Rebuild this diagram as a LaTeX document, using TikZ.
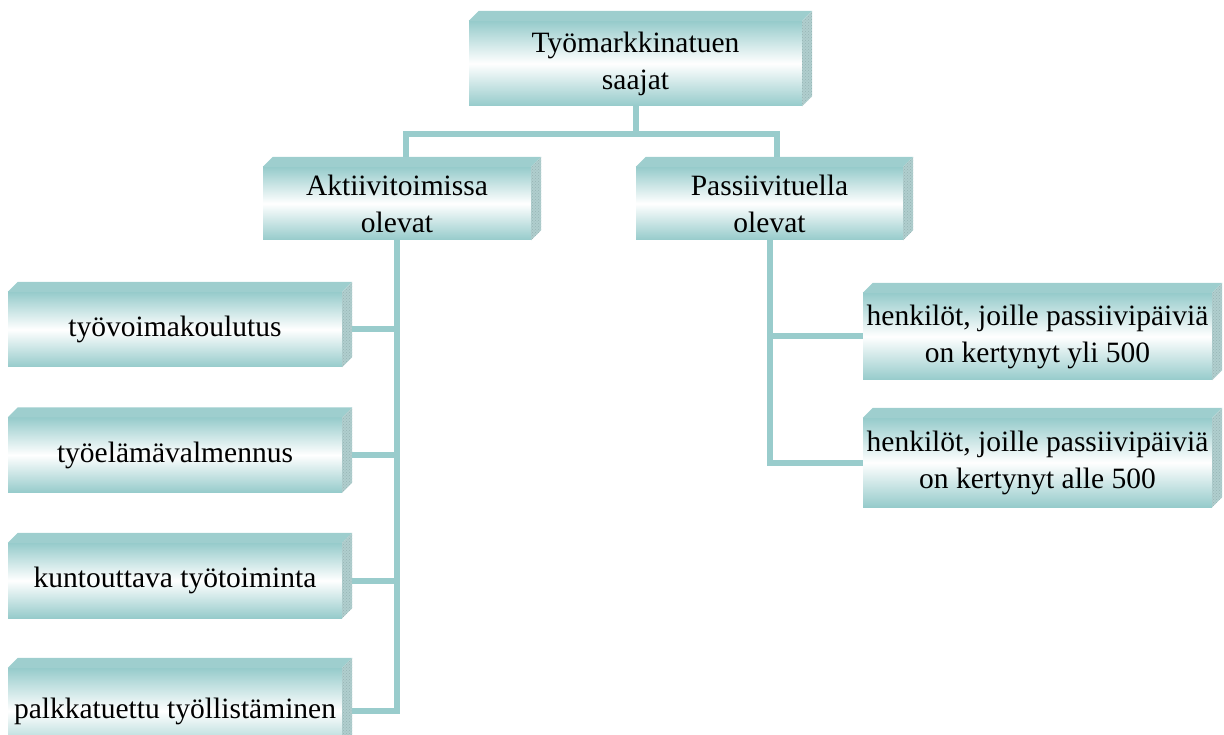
\documentclass[tikz,border=0pt]{standalone}
\usepackage{fontspec}
\setmainfont{Liberation Serif}
\usetikzlibrary{calc,patterns}
\definecolor{lineteal}{RGB}{153,204,204}
\definecolor{faceteal}{RGB}{150,203,203}
\definecolor{topteal}{RGB}{158,206,206}
\definecolor{sideteal}{RGB}{176,206,206}
\definecolor{sidedots}{RGB}{150,180,180}
\begin{document}
\begin{tikzpicture}[x=1pt,y=-1pt,
  box/.style={rectangle, inner sep=0pt, top color=faceteal, bottom color=faceteal,
    middle color=white, align=center,
    font=\fontsize{29.5}{37}\selectfont},
  conn/.style={draw=lineteal, line width=6pt},
  topface/.style={fill=topteal},
  sideface/.style={fill=sideteal}]
\clip (0,0) rectangle (1224,735);
\useasboundingbox (0,0) rectangle (1224,735);

% front faces
\node[box, minimum width=333pt, minimum height=85pt] (top) at (635.5,63.5) {Työmarkkinatuen\\saajat};
\node[box, minimum width=268pt, minimum height=73pt] (akt) at (397,203.5) {Aktiivitoimissa\\olevat};
\node[box, minimum width=267pt, minimum height=73pt] (pas) at (769.5,203.5) {Passiivituella\\olevat};

\node[box, minimum width=334pt, minimum height=75pt] (tv) at (175,329.5) {työvoimakoulutus};
\node[box, minimum width=334pt, minimum height=75pt] (te) at (175,455) {työelämävalmennus};
\node[box, minimum width=334pt, minimum height=75pt] (kt) at (175,580.5) {kuntouttava työtoiminta};
\node[box, minimum width=334pt, minimum height=86pt] (pt) at (175,711) {palkkatuettu työllistäminen};

\node[box, minimum width=349pt, minimum height=87pt] (h1) at (1037.5,336.5) {henkilöt, joille passiivipäiviä\\on kertynyt yli 500};
\node[box, minimum width=349pt, minimum height=89pt] (h2) at (1037.5,462.5) {henkilöt, joille passiivipäiviä\\on kertynyt alle 500};

% top and right faces of each block
\foreach \n in {top,akt,pas,tv,te,kt,pt,h1,h2}{
  \fill[topface] (\n.north west) -- ++(10,-10) -- ($(\n.north east)+(10,-10)$) -- (\n.north east) -- cycle;
  \fill[sideface] (\n.north east) -- ++(10,-10) -- ($(\n.south east)+(10,-10)$) -- (\n.south east) -- cycle;
  \fill[pattern=crosshatch dots, pattern color=sidedots] (\n.north east) -- ++(10,-10) -- ($(\n.south east)+(10,-10)$) -- (\n.south east) -- cycle;
}

% connectors
\coordinate (aktin) at ($(akt.north)+(8.5,-10)$);
\coordinate (pasin) at ($(pas.north)+(7.5,-10)$);
\draw[conn] (top.south) -- ++(0,28) -| (aktin);
\draw[conn] (top.south) -- ++(0,28) -| (pasin);

\foreach \n in {tv,te,kt,pt}{
  \draw[conn] (akt.south) |- ($(\n.east)+(10,0)$);
}
\foreach \n in {h1,h2}{
  \draw[conn] (pas.south) |- (\n.west);
}
\end{tikzpicture}
\end{document}
